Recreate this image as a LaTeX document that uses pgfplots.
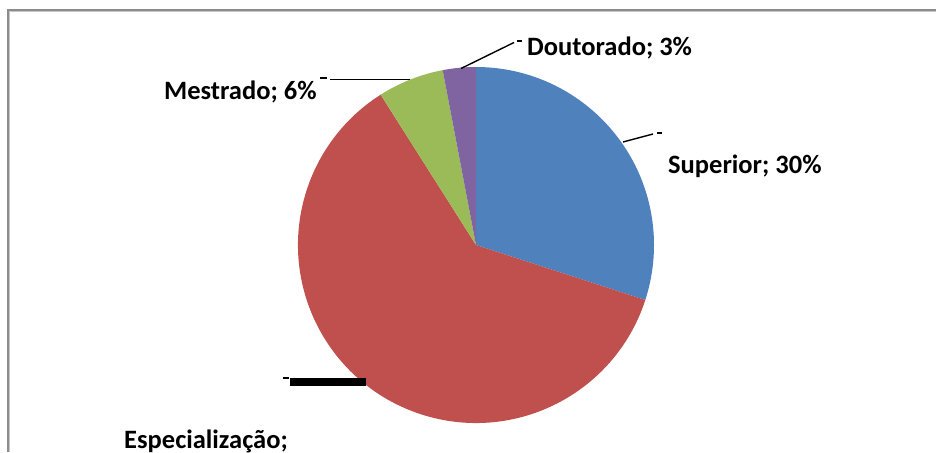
\documentclass[border=0pt]{standalone}
\usepackage{pgfplots}
\pgfplotsset{compat=1.18}
\usepackage{pgfplotstable}
\usepackage{fontspec}
\setmainfont{Carlito}

\definecolor{cSup}{HTML}{4F81BD}
\definecolor{cEsp}{HTML}{C0504D}
\definecolor{cMes}{HTML}{9BBB59}
\definecolor{cDou}{HTML}{8064A2}
\definecolor{frame}{HTML}{8C8C8C}

% share of each level, in percent
\pgfplotstableread{
level value
Superior 30
Especializacao 61
Mestrado 6
Doutorado 3
}\piedata

\begin{document}
\begin{tikzpicture}
% slice angles, clockwise from the top
\pgfplotstablegetelem{0}{value}\of\piedata \pgfmathsetmacro\aA{90-3.6*\pgfplotsretval}
\pgfplotstablegetelem{1}{value}\of\piedata \pgfmathsetmacro\aB{\aA-3.6*\pgfplotsretval}
\pgfplotstablegetelem{2}{value}\of\piedata \pgfmathsetmacro\aC{\aB-3.6*\pgfplotsretval}
\pgfplotstablegetelem{3}{value}\of\piedata \pgfmathsetmacro\aD{\aC-3.6*\pgfplotsretval}
\begin{axis}[
    x=1pt, y=1pt,
    xmin=0, xmax=936, ymin=0, ymax=452,
    hide axis, clip=true,
]
\coordinate (ll) at (axis cs:0,0);
\coordinate (ur) at (axis cs:936,452);
\def\cx{476}\def\cy{207}\def\r{178pt}
\fill[cSup] (axis cs:\cx,\cy) -- ++(90:\r) arc[start angle=90, end angle=\aA, radius=\r] -- cycle;
\fill[cEsp] (axis cs:\cx,\cy) -- ++(\aA:\r) arc[start angle=\aA, end angle=\aB, radius=\r] -- cycle;
\fill[cMes] (axis cs:\cx,\cy) -- ++(\aB:\r) arc[start angle=\aB, end angle=\aC, radius=\r] -- cycle;
\fill[cDou] (axis cs:\cx,\cy) -- ++(\aC:\r) arc[start angle=\aC, end angle=\aD, radius=\r] -- cycle;

% chart frame (cut at right and bottom)
\draw[frame!50, line width=1pt] (axis cs:9,0) -- (axis cs:9,440) -- (axis cs:936,440);
\draw[frame, line width=2pt] (axis cs:7.5,0) -- (axis cs:7.5,441.5) -- (axis cs:936,441.5);

% leader lines
\draw[black, line width=1.4pt] (axis cs:461,383.5) -- (axis cs:514,409.5);
\draw[black, line width=2pt] (axis cs:517,410.5) -- (axis cs:522,410.5);
\draw[black, line width=1.4pt] (axis cs:410,372.5) -- (axis cs:330,372.5);
\draw[black, line width=2pt] (axis cs:320,373.5) -- (axis cs:327,373.5);
\draw[black, line width=1.4pt] (axis cs:623,310) -- (axis cs:653,318);
\draw[black, line width=2pt] (axis cs:657,319) -- (axis cs:662,319);
\draw[black, line width=8pt] (axis cs:290,70) -- (axis cs:366,70);
\draw[black, line width=2pt] (axis cs:283,74) -- (axis cs:289,74);

% data labels
\begin{scope}[every node/.style={inner sep=0pt, font=\fontsize{26.5}{31}\selectfont\bfseries}]
\node[anchor=base west] at (axis cs:527,396) {Doutorado; 3\%};
\node[anchor=base west] at (axis cs:668,278) {Superior; 30\%};
\node[anchor=base west] at (axis cs:164,352) {Mestrado; 6\%};
\node[anchor=base west] at (axis cs:124,4) {Especialização;};
\end{scope}
\end{axis}
\pgfresetboundingbox
\useasboundingbox (ll) rectangle (ur);
\end{tikzpicture}
\end{document}
